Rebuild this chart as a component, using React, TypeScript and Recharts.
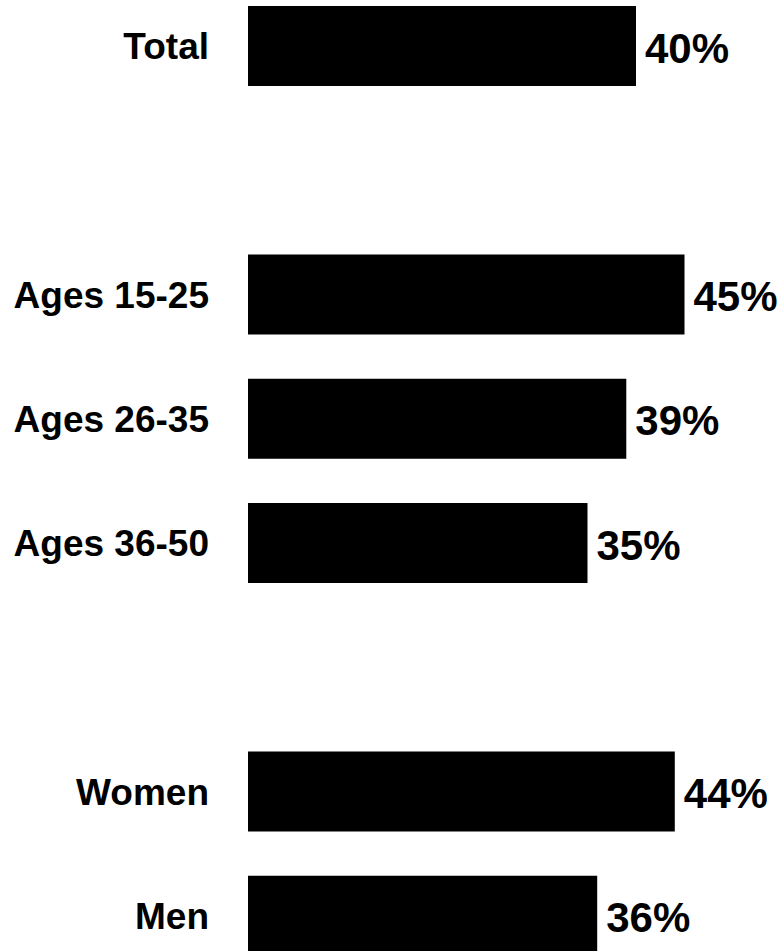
import React from "react";
import { BarChart, Bar, XAxis, YAxis, LabelList } from "recharts";

// Categories (blank entries are spacer rows between groups)
const categories = ["Total", "", "Ages 15-25", "Ages 26-35", "Ages 36-50", " ", "Women", "Men"];
// Share in percent (null = spacer row)
const shares: (number | null)[] = [40, null, 45, 39, 35, null, 44, 36];

const data = categories.map((c, i) => ({ name: c, value: shares[i] }));

const FONT = "'Liberation Sans', Arial, Helvetica, sans-serif";

const CategoryTick = (props: any) => {
  const { x, y, payload } = props;
  const label = String(payload.value).trim();
  if (!label) return null;
  return (
    <text
      x={x}
      y={y}
      dy="0.358em"
      textAnchor="end"
      fontFamily={FONT}
      fontWeight="bold"
      fontSize={37}
      fill="#000"
    >
      {label}
    </text>
  );
};

const ValueLabel = (props: any) => {
  const { x, y, width, height, value } = props;
  if (value === null || value === undefined) return null;
  return (
    <text
      x={x + width + 9}
      y={y + height / 2 + 1.5}
      dy="0.358em"
      textAnchor="start"
      fontFamily={FONT}
      fontWeight="bold"
      fontSize={42}
      fill="#000"
    >
      {`${value}%`}
    </text>
  );
};

export default function App() {
  return (
    <div
      style={{
        position: "absolute",
        left: 0,
        top: 0,
        width: 780,
        height: 951,
        overflow: "hidden",
        background: "#fff",
      }}
    >
      <div style={{ marginTop: -16 }}>
        <BarChart
          width={780}
          height={994}
          data={data}
          layout="vertical"
          margin={{ top: 0, right: 47, bottom: 0, left: 0 }}
        >
          <XAxis type="number" domain={[0, 50]} hide />
          <YAxis
            type="category"
            dataKey="name"
            width={248}
            axisLine={false}
            tickLine={false}
            tickSize={0}
            tickMargin={39}
            tick={<CategoryTick />}
            interval={0}
          />
          <Bar dataKey="value" fill="#000" barSize={80} isAnimationActive={false}>
            <LabelList dataKey="value" content={<ValueLabel />} />
          </Bar>
        </BarChart>
      </div>
    </div>
  );
}
